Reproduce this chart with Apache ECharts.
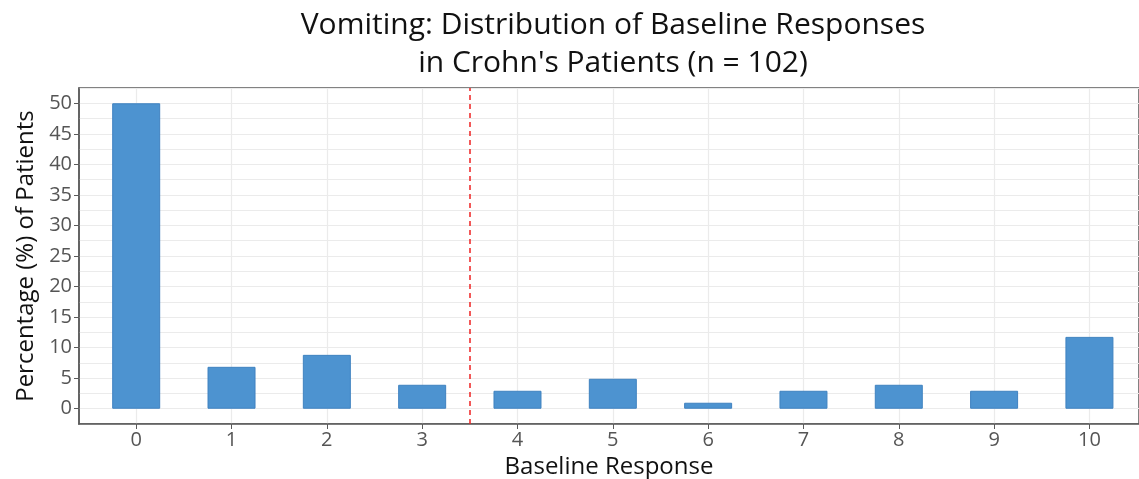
<!DOCTYPE html>
<html lang="en">
<head>
    <meta charset="UTF-8">
    <title>Vomiting baseline responses</title>
    <script src="https://cdn.jsdelivr.net/npm/echarts@6/dist/echarts.min.js"></script>
    <style>
        html, body { margin: 0; padding: 0; background: #fff; }
        #chart { width: 1139px; height: 479px; }
    </style>
</head>
<body>
<div id="chart"></div>
<script type="text/javascript">
    // baseline response scores and % of patients (n = 102)
    var responses = [0, 1, 2, 3, 4, 5, 6, 7, 8, 9, 10];
    var percents = [50.0, 6.86, 8.82, 3.92, 2.94, 4.90, 0.98, 2.94, 3.92, 2.94, 11.76];
    var yTicks = [0, 5, 10, 15, 20, 25, 30, 35, 40, 45, 50];
    var cutoff = 3.5;

    var myChart = echarts.init(document.getElementById('chart'));

    var barData = responses.map(function (r, i) { return [r, percents[i]]; });
    var font = '"Open Sans", "Noto Sans", sans-serif';
    var gridColor = '#ebebeb';

    myChart.setOption({
        animation: false,
        backgroundColor: '#fff',
        title: {
            text: "Vomiting: Distribution of Baseline Responses\nin Crohn's Patients (n = 102)",
            left: 608,
            textAlign: 'center',
            top: 1,
            textStyle: { fontFamily: font, fontSize: 30, fontWeight: 'normal', color: '#111', lineHeight: 38 }
        },
        grid: {
            left: 79, right: 0, top: 88, bottom: 55,
            outerBoundsMode: 'none',
            containLabel: false,
            show: true, borderColor: '#5a5a5a', borderWidth: 1.5
        },
        xAxis: {
            type: 'value',
            min: -0.6,
            max: 10.52,
            name: 'Baseline Response',
            nameLocation: 'middle',
            nameGap: 23,
            nameTextStyle: { fontFamily: font, fontSize: 24, color: '#111' },
            axisLine: { show: true, onZero: false, lineStyle: { color: '#5a5a5a', width: 1.5 } },
            axisTick: { show: true, length: 5, lineStyle: { color: '#5a5a5a' }, customValues: responses },
            axisLabel: { fontFamily: font, fontSize: 20, color: '#555', margin: 6, customValues: responses },
            splitLine: { show: true, lineStyle: { color: gridColor, width: 1.2 } }
        },
        yAxis: [{
            type: 'value',
            min: -2.5,
            max: 52.5,
            interval: 2.5,
            name: 'Percentage (%) of Patients',
            nameLocation: 'middle',
            nameGap: 40,
            nameTextStyle: { fontFamily: font, fontSize: 24, color: '#111' },
            axisLine: { show: true, onZero: false, lineStyle: { color: '#5a5a5a', width: 1.5 } },
            axisTick: { show: true, length: 5, lineStyle: { color: '#5a5a5a' }, customValues: yTicks },
            axisLabel: { fontFamily: font, fontSize: 20, color: '#555', margin: 7, customValues: yTicks },
            splitLine: { show: false }
        }, {
            // minor + major horizontal grid every 2.5
            type: 'value',
            position: 'left',
            min: -2.5,
            max: 52.5,
            interval: 2.5,
            axisLine: { show: false },
            axisTick: { show: false },
            axisLabel: { show: false },
            splitLine: { show: true, lineStyle: { color: gridColor, width: 1.2 } }
        }],
        series: [{
            type: 'bar',
            data: barData,
            barWidth: 48,
            itemStyle: { color: '#4d93d0', borderColor: '#3f82c0', borderWidth: 1 },
            markLine: {
                silent: true,
                symbol: 'none',
                label: { show: false },
                lineStyle: { color: '#ee2222', type: [5, 4], width: 1.5 },
                data: [{ xAxis: cutoff }]
            }
        }]
    });
</script>
</body>
</html>
